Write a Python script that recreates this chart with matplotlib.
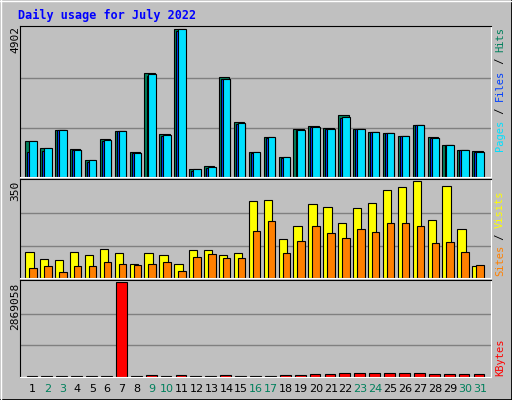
import numpy as np
import matplotlib
matplotlib.use('Agg')
import matplotlib.pyplot as plt

days = np.arange(1, 32)
weekend = [2, 3, 9, 10, 16, 17, 23, 24, 30, 31]

hits = [1203, 969, 1571, 936, 557, 1270, 1537, 824, 3442, 1426, 4902, 256, 356, 3298, 1827,
        824, 1326, 668, 1604, 1705, 1638, 2039, 1604, 1504, 1471, 1370, 1738, 1337, 1070, 902, 869]
files = [1203, 969, 1571, 900, 557, 1230, 1537, 790, 3400, 1390, 4902, 256, 330, 3260, 1790,
         824, 1326, 668, 1570, 1670, 1604, 1990, 1604, 1504, 1471, 1370, 1738, 1300, 1070, 902, 840]
pages = [830, 860, 1540, 880, 500, 1200, 1510, 780, 3350, 1370, 4850, 190, 300, 3230, 1760,
         780, 1280, 620, 1540, 1640, 1580, 1960, 1580, 1480, 1450, 1350, 1720, 1290, 1050, 890, 830]
visits = [94, 67, 64, 94, 83, 106, 90, 52, 90, 83, 52, 102, 102, 83, 90,
          277, 281, 140, 186, 266, 255, 197, 251, 270, 316, 327, 350, 209, 331, 178, 45]
sites = [37, 45, 22, 45, 45, 56, 52, 48, 52, 56, 25, 75, 87, 71, 71,
         171, 205, 90, 132, 186, 163, 144, 178, 167, 197, 197, 186, 125, 129, 94, 48]
kbytes = [30000, 30000, 30000, 30000, 30000, 30000, 2869058, 30000, 60000, 30000, 60000, 30000, 30000, 60000, 30000,
          30000, 30000, 60000, 60000, 95000, 95000, 126000, 126000, 126000, 126000, 126000, 126000, 95000, 95000, 95000, 95000]

W, H = 512, 400
X0, X1 = 20, 491
STEP, FIRST = 14.9, 32.7
fig = plt.figure(figsize=(W / 100, H / 100), dpi=100, facecolor='#c0c0c0')


def ax_at(x0, y0, x1, y1):
	return fig.add_axes([x0 / W, 1 - y1 / H, (x1 - x0) / W, (y1 - y0) / H])


def style(ax, vmax):
	ax.set_facecolor('#c0c0c0')
	ax.set_xlim(1 - (FIRST - X0) / STEP, 1 + (X1 - FIRST) / STEP)
	ax.set_ylim(0, vmax * 1.02)
	ax.set_xticks([])
	ax.set_yticks([])
	for y in (vmax / 3, vmax * 2 / 3):
		ax.axhline(y, color='#808080', lw=1, zorder=0)
	for s in ('top', 'left'):
		ax.spines[s].set_color('black')
	for s in ('bottom', 'right'):
		ax.spines[s].set_color('white')


kw = dict(align='edge', edgecolor='black', lw=0.8)

ax1 = ax_at(X0, 26, X1, 177)
style(ax1, 4902)
ax1.bar(days - 0.5, hits, width=0.7, color='#00805c', **kw)
ax1.bar(days - 0.36, pages, width=0.6, color='#0040ff', **kw)
ax1.bar(days - 0.23, files, width=0.5, color='#00e0ff', **kw)

ax2 = ax_at(X0, 179, X1, 278)
style(ax2, 350)
ax2.bar(days - 0.5, visits, width=0.56, color='#ffff00', **kw)
ax2.bar(days - 0.23, sites, width=0.5, color='#ff8000', **kw)

ax3 = ax_at(X0, 280, X1, 377)
style(ax3, 2869058)
ax3.bar(days - 0.41, kbytes, width=0.72, color='#ff0000', **kw)

mono = 'DejaVu Sans Mono'
fig.text(18 / W, 1 - 15 / H, 'Daily usage for July 2022', color='#0000ff', fontsize=8.5,
         fontweight='bold', family=mono, va='center')
fig.text(15 / W, 1 - 26 / H, '4902', rotation=90, fontsize=8, family=mono, ha='center', va='top')
fig.text(15 / W, 1 - 181 / H, '350', rotation=90, fontsize=8, family=mono, ha='center', va='top')
fig.text(15 / W, 1 - 283 / H, '2869058', rotation=90, fontsize=8, family=mono, ha='center', va='top')


def vlabel(parts, ybottom, step=6.2):
	pos = 0
	for txt, col in parts:
		fig.text(500 / W, 1 - (ybottom - pos * step) / H, txt, rotation=90, color=col,
		         fontsize=7.5, family=mono, ha='center', va='bottom')
		pos += len(txt)


vlabel([('Pages', '#00e0ff'), (' / ', 'black'), ('Files', '#0040ff'), (' / ', 'black'), ('Hits', '#00805c')], 151)
vlabel([('Sites', '#ff8000'), (' / ', 'black'), ('Visits', '#ffff00')], 276, 6.0)
vlabel([('KBytes', '#ff0000')], 376, 6.0)

for d in days:
	x = FIRST + (d - 1) * STEP
	fig.text(x / W, 1 - 389 / H, str(d), color='#00805c' if d in weekend else 'black',
	         fontsize=8, ha='center', va='center')

# outer frame
fig.add_artist(plt.Line2D([0, 1], [0.5 / H, 0.5 / H], color='black', lw=2))
fig.add_artist(plt.Line2D([1 - 0.5 / W, 1 - 0.5 / W], [0, 1], color='black', lw=2))
fig.add_artist(plt.Line2D([0, 1], [1 - 1 / H, 1 - 1 / H], color='white', lw=1))
fig.add_artist(plt.Line2D([1 / W, 1 / W], [0, 1], color='white', lw=1))

fig.savefig('out.png', dpi=100, facecolor=fig.get_facecolor())
